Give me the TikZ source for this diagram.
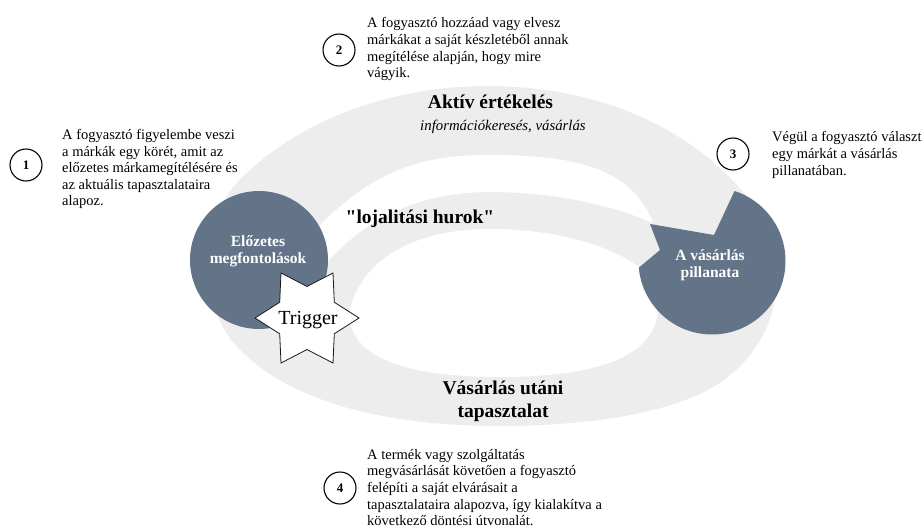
\documentclass[tikz,border=0pt]{standalone}
\usepackage{fontspec}
\setmainfont{Liberation Serif}
% a copy of the family without TeX input ligatures, for straight quotes
\newfontfamily\plainserif{Liberation Serif}
\usetikzlibrary{shapes.geometric}
\definecolor{ringgray}{RGB}{237,237,237}
\definecolor{slate}{RGB}{99,115,136}

\begin{document}
\begin{tikzpicture}[x=1pt,y=-1pt,
  body/.style={font=\fontsize{14.5}{16.6}\selectfont, align=left, anchor=north west, inner sep=0pt},
  numcirc/.style={circle, draw=black, line width=1.1pt, minimum size=32pt, inner sep=0pt,
                  font=\bfseries\fontsize{13}{15}\selectfont},
  stage/.style={circle, fill=slate, inner sep=0pt},
  stagelabel/.style={text=white, font=\bfseries\fontsize{15.5}{17}\selectfont, align=center, inner sep=0pt},
  heading/.style={font=\bfseries\fontsize{19.5}{23}\selectfont, inner sep=0pt}]

\useasboundingbox (0,0) rectangle (923,527);

% the journey ring
\fill[ringgray] (487,86) .. controls (620,86) and (715,145) .. (760,215)
  .. controls (790,275) and (780,340) .. (720,383)
  .. controls (665,418) and (570,426) .. (500,426)
  .. controls (380,426) and (290,400) .. (240,350)
  .. controls (195,305) and (195,215) .. (250,170)
  .. controls (310,115) and (400,86) .. (487,86) -- cycle;

% gap between the evaluation band and the loyalty loop arrow
\fill[white] (320,225) .. controls (380,165) and (430,155) .. (490,155)
  .. controls (580,155) and (630,170) .. (652,220) -- (652,223)
  .. controls (620,208) and (560,192) .. (490,192)
  .. controls (410,192) and (350,225) .. (305,290) -- cycle;

% inner opening of the ring
\fill[white] (350,308) .. controls (365,255) and (420,229) .. (490,229)
  .. controls (560,229) and (615,248) .. (640,268)
  .. controls (655,285) and (660,300) .. (657,317)
  .. controls (650,355) and (600,377) .. (500,377)
  .. controls (400,377) and (345,355) .. (350,308) -- cycle;

% stages
\node[stage, minimum size=138pt] (prior) at (259,260) {};
% the purchase stage, with the two arrow heads cut out of its upper left
\begin{scope}[even odd rule]
  \clip (0,0) rectangle (923,527)
    (770,140) -- (735,190) -- (714,235) -- (650,224) -- (660,250)
    -- (636,270) -- (600,140) -- cycle;
  \node[stage, minimum size=147pt] (moment) at (712,261) {};
\end{scope}

\node[stagelabel] (priorlabel) at (258,251) {Előzetes\\megfontolások};
\node[stagelabel] (momentlabel) at (710,265) {A vásárlás\\pillanata};

% trigger
\node[star, star points=6, star point ratio=1.65, minimum size=104pt, inner sep=0pt,
      shape border rotate=30, draw=black!90, line width=0.8pt, fill=white] (trigger) at (307,318) {};
\node[font=\fontsize{20}{24}\selectfont, inner sep=0pt] (triggerlabel) at (308,320) {Trigger};

% ring labels
\node[heading, anchor=base] (evalhead) at (490.5,108) {Aktív értékelés};
\node[font=\itshape\fontsize{14.8}{17}\selectfont, anchor=base, inner sep=0pt] (evalsub) at (503,130) {információkeresés, vásárlás};
\node[heading, anchor=base, font=\plainserif\bfseries\fontsize{19.5}{23}\selectfont] (loophead) at (420,223) {"lojalitási hurok"};
\node[heading, align=center, anchor=north] (posthead) at (503,381) {Vásárlás utáni\\tapasztalat};

% numbered notes
\node[numcirc] (n1) at (26,165) {1};
\node[body] (t1) at (62,129) {A fogyasztó figyelembe veszi\\a márkák egy körét, amit az\\előzetes márkamegítélésére és\\az aktuális tapasztalataira\\alapoz.};

\node[numcirc] (n2) at (339,50) {2};
\node[body] (t2) at (367,17.5) {A fogyasztó hozzáad vagy elvesz\\márkákat a saját készletéből annak\\megítélése alapján, hogy mire\\vágyik.};

\node[numcirc] (n3) at (733,154) {3};
\node[body] (t3) at (772,131.5) {Végül a fogyasztó választ\\egy márkát a vásárlás\\pillanatában.};

\node[numcirc] (n4) at (340,488) {4};
\node[body] (t4) at (367,449) {A termék vagy szolgáltatás\\megvásárlását követően a fogyasztó\\felépíti a saját elvárásait a\\tapasztalataira alapozva, így kialakítva a\\következő döntési útvonalát.};

\end{tikzpicture}
\end{document}
